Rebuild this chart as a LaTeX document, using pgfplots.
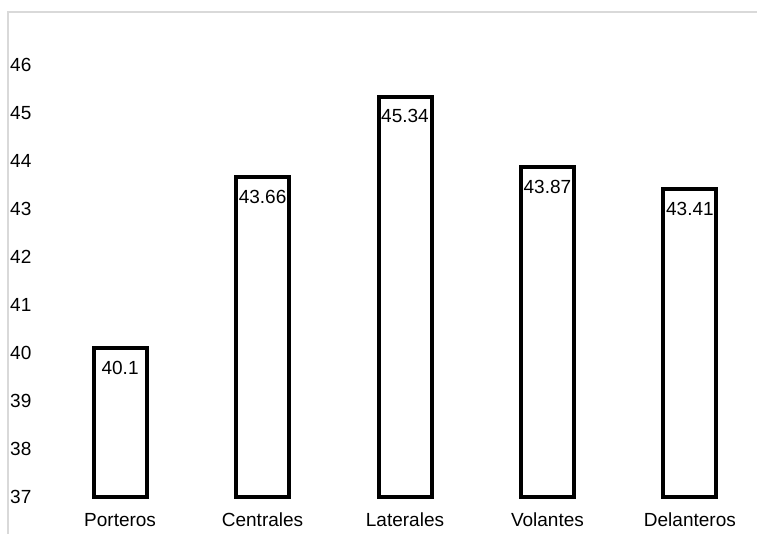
\documentclass[border=0pt]{standalone}
\usepackage{pgfplots}
\pgfplotsset{compat=1.18}
\usepackage{pgfplotstable}
\usepackage{fontspec}
\setmainfont{Liberation Sans}
\definecolor{framegray}{HTML}{D9D9D9}
\pgfplotstableread{
x v
0 40.1
1 43.66
2 45.34
3 43.87
4 43.41
}\data
\pgfplotsset{common/.style={
  at={(56pt,37pt)}, anchor=south west,
  scale only axis, width=698pt, height=485pt,
  xmin=-0.45, xmax=4.45, ymin=37, ymax=47.1, clip=false}}
\begin{document}
\begin{tikzpicture}
\useasboundingbox (0,0) rectangle (757pt,534pt);
\draw[framegray, line width=1.2pt] (8pt,0pt) -- (8pt,522pt) -- (757pt,522pt);
\begin{axis}[
  common,
  ybar stacked, bar width=53pt,
  axis line style={draw=none},
  major tick length=0pt,
  xtick={0,1,2,3,4},
  xticklabels={Porteros,Centrales,Laterales,Volantes,Delanteros},
  ytick={37,38,39,40,41,42,43,44,45,46},
  /pgf/number format/assume math mode=true,
  tick label style={font=\fontsize{19}{22}\selectfont},
  yticklabel style={anchor=west, inner sep=0pt, xshift=-46pt},
  xticklabel style={anchor=north, inner sep=0pt, yshift=-16pt},
]
\addplot[draw=none, fill=none] coordinates {(0,37) (1,37) (2,37) (3,37) (4,37)};
\addplot[draw=black, fill=white, line width=4pt, line join=miter]
  table[x=x, y expr=\thisrow{v}-37] {\data};
\end{axis}
\begin{axis}[common, hide axis]
\addplot[draw=none, mark=none, nodes near coords, point meta=explicit symbolic,
  every node near coord/.append style={font=\fontsize{19}{22}\selectfont, anchor=north, inner sep=0pt, yshift=-13pt}]
  table[x=x, y=v, meta=v] {\data};
\end{axis}
\end{tikzpicture}
\end{document}
